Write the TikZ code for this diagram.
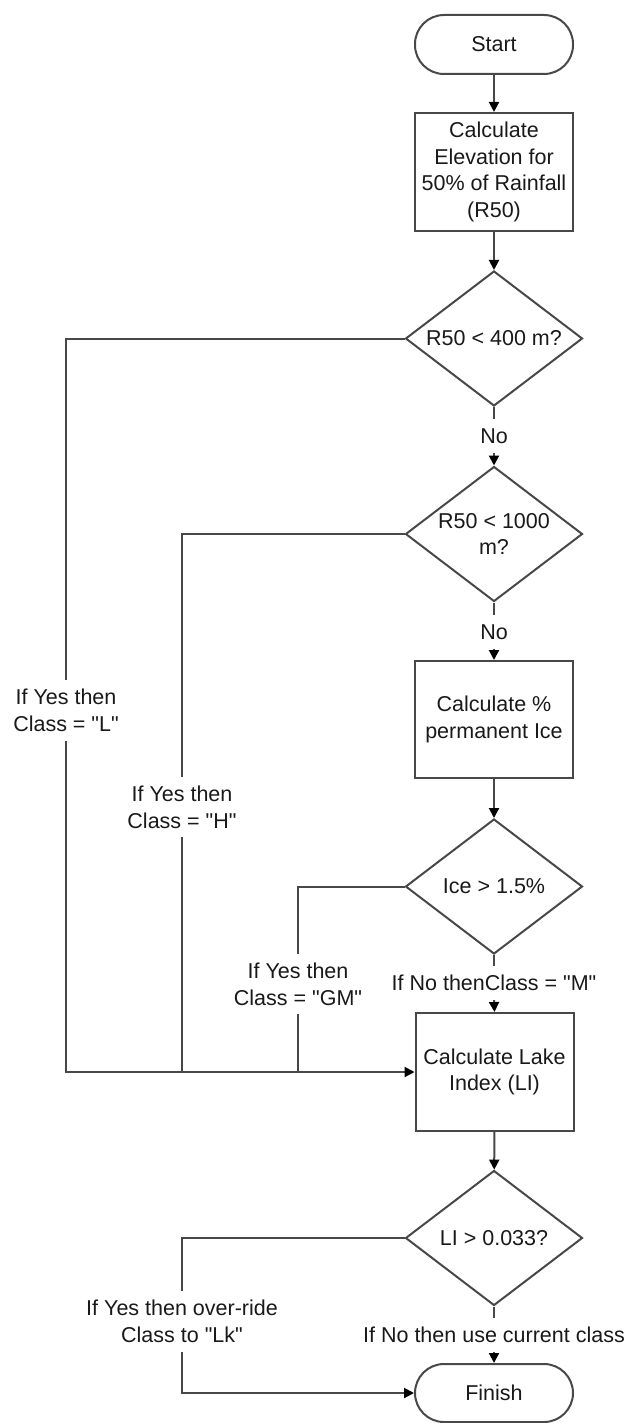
\documentclass[tikz,border=0pt]{standalone}
\usepackage{fontspec}
\setmainfont{Liberation Sans}[Ligatures=TeXOff]
\usetikzlibrary{shapes.geometric,arrows.meta}
\definecolor{linec}{RGB}{72,72,72}
\definecolor{textc}{RGB}{25,25,25}
\tikzset{
  base/.style={draw=linec, line width=2pt, text=textc, align=center, inner sep=0pt,
    font=\fontsize{21.5}{26.7}\selectfont},
  term/.style={base, rectangle, rounded corners=29pt, minimum width=158pt, minimum height=59pt},
  proc/.style={base, rectangle, minimum width=158pt, minimum height=118pt},
  decide/.style={base, diamond, aspect=1.32, minimum width=177pt, minimum height=135pt},
  lab/.style={text=textc, align=center, inner xsep=2pt, inner ysep=9pt,
    font=\fontsize{21.5}{26.7}\selectfont},
  conn/.style={draw=linec, line width=2pt},
  arr/.style={conn, -{Triangle[length=10pt,width=10pt,color=black]}},
}
\begin{document}
\begin{tikzpicture}[x=1pt,y=-1pt]
\useasboundingbox (0,0) rectangle (627,1423);

\node[term] (start) at (494,44.5) {Start};
\node[proc] (box1) at (494,172) {Calculate\\Elevation for\\50\% of Rainfall\\(R50)};
\node[decide] (dia1) at (494,338.5) {R50 < 400 m?};
\node[lab] (no1) at (494,436) {No};
\node[decide] (dia2) at (494,534) {R50 < 1000\\m?};
\node[lab] (no2) at (494,632) {No};
\node[proc, minimum height=117pt] (box2) at (494,719.5) {Calculate \%\\permanent Ice};
\node[decide] (dia3) at (494,886.5) {Ice > 1.5\%};
\node[lab] (labM) at (494,983) {If No thenClass = "M"};
\node[proc] (box3) at (494.5,1072) {Calculate Lake\\Index (LI)};
\node[decide] (dia4) at (494,1238) {LI > 0.033?};
\node[lab] (labC) at (494,1335) {If No then use current class};
\node[term, minimum height=58pt] (finish) at (494,1393) {Finish};

\node[lab] (labL) at (66,710.5) {If Yes then\\Class = "L"};
\node[lab] (labH) at (182,807) {If Yes then\\Class = "H"};
\node[lab] (labG) at (298,984) {If Yes then\\Class = "GM"};
\node[lab] (labK) at (182,1321.5) {If Yes then over-ride\\Class to "Lk"};

\draw[arr] (start) -- (box1);
\draw[arr] (box1) -- (dia1);
\draw[conn] (dia1.south) -- (no1.north);
\draw[arr] (no1.south) -- (dia2.north);
\draw[conn] (dia2.south) -- (no2.north);
\draw[arr] (no2.south) -- (box2.north);
\draw[arr] (box2) -- (dia3);
\draw[conn] (dia3.south) -- (labM.north);
\draw[arr] (labM.south) -- (box3.north);
\draw[arr] (box3) -- (dia4);
\draw[conn] (dia4.south) -- (labC.north);
\draw[arr] (labC.south) -- (finish.north);

\draw[conn] (dia1.west) -| (labL.north);
\draw[arr] (labL.south) |- (box3.west);
\draw[conn] (dia2.west) -| (labH.north);
\draw[conn] (labH.south) -- (labH.south |- box3.west);
\draw[conn] (dia3.west) -| (labG.north);
\draw[conn] (labG.south) -- (labG.south |- box3.west);
\draw[conn] (dia4.west) -| (labK.north);
\draw[arr] (labK.south) |- (finish.west);
\end{tikzpicture}
\end{document}
